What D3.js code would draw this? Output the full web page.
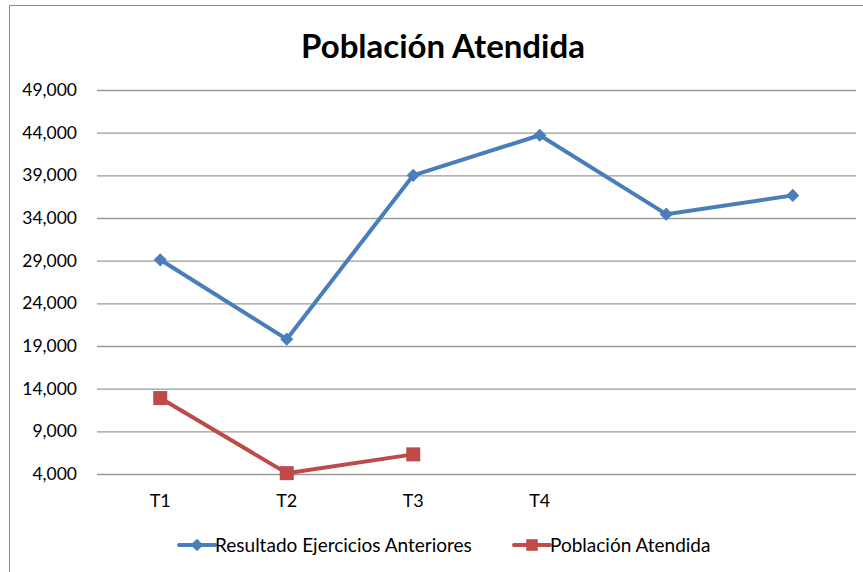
<!DOCTYPE html>
<html>
<head>
<meta charset="utf-8">
<script src="https://cdn.jsdelivr.net/npm/d3@7"></script>
<style>
  body { margin: 0; background: #fff; }
  svg { display: block; font-family: Lato, "Open Sans", sans-serif; }
</style>
</head>
<body>
<script>
// chart data
var categories = ['T1', 'T2', 'T3', 'T4', '', ' '];
var resultadoAnteriores = [29100, 19800, 39000, 43700, 34450, 36650];
var poblacionAtendida = [12900, 4100, 6300];
var yTicks = [4000, 9000, 14000, 19000, 24000, 29000, 34000, 39000, 44000, 49000];

var width = 863, height = 572;
var margin = {left: 97, right: 7, top: 90, bottom: 98};

var svg = d3.select('body').append('svg')
  .attr('width', width)
  .attr('height', height);

// outer chart frame (only left and top edges visible)
svg.append('path')
  .attr('d', 'M9.5,' + height + 'V5.5H' + width)
  .attr('fill', 'none')
  .attr('stroke', '#8c8c8c')
  .attr('stroke-width', 1);

// title
svg.append('text')
  .attr('x', 443)
  .attr('y', 58)
  .attr('text-anchor', 'middle')
  .attr('font-size', 33)
  .attr('font-weight', 'bold')
  .attr('fill', '#000')
  .text('Población Atendida');

var x = d3.scaleBand()
  .domain(categories)
  .range([margin.left, width - margin.right]);

var y = d3.scaleLinear()
  .domain([4000, 49000])
  .range([height - margin.bottom, margin.top]);

// gridlines + y axis labels
var yAxis = svg.append('g')
  .attr('transform', 'translate(' + margin.left + ',0)')
  .call(d3.axisLeft(y)
    .tickValues(yTicks)
    .tickSize(-(width - margin.left - margin.right))
    .tickPadding(20)
    .tickFormat(d3.format(',')));
yAxis.select('.domain').remove();
yAxis.selectAll('line').attr('stroke', '#9a9a9a').attr('stroke-width', 1.3);
yAxis.selectAll('text').attr('font-size', 17.5).attr('fill', '#000').attr('font-family', 'Lato, sans-serif');

// x axis labels
var xAxis = svg.append('g')
  .attr('transform', 'translate(0,' + (height - margin.bottom) + ')')
  .call(d3.axisBottom(x).tickSize(0).tickPadding(20));
xAxis.select('.domain').remove();
xAxis.selectAll('text').attr('font-size', 18).attr('fill', '#000').attr('font-family', 'Lato, sans-serif');

var blue = '#4a7ebb';
var red = '#be4b48';

var line = d3.line()
  .x(function(d, i) { return x(categories[i]) + x.bandwidth() / 2; })
  .y(function(d) { return y(d); });

// blue series
svg.append('path')
  .datum(resultadoAnteriores)
  .attr('d', line)
  .attr('fill', 'none')
  .attr('stroke', blue)
  .attr('stroke-width', 4)
  .attr('stroke-linejoin', 'round');

svg.selectAll('.diamond')
  .data(resultadoAnteriores)
  .enter()
  .append('path')
  .attr('class', 'diamond')
  .attr('d', d3.symbol().type(d3.symbolDiamond2).size(110))
  .attr('transform', function(d, i) {
    return 'translate(' + (x(categories[i]) + x.bandwidth() / 2) + ',' + y(d) + ')';
  })
  .attr('fill', blue);

// red series
svg.append('path')
  .datum(poblacionAtendida)
  .attr('d', line)
  .attr('fill', 'none')
  .attr('stroke', red)
  .attr('stroke-width', 4)
  .attr('stroke-linejoin', 'round');

svg.selectAll('.square')
  .data(poblacionAtendida)
  .enter()
  .append('rect')
  .attr('class', 'square')
  .attr('x', function(d, i) { return x(categories[i]) + x.bandwidth() / 2 - 7; })
  .attr('y', function(d) { return y(d) - 7; })
  .attr('width', 14)
  .attr('height', 14)
  .attr('fill', red);

// legend
var legendItems = [
  {name: 'Resultado Ejercicios Anteriores', color: blue, marker: 'diamond', x: 179},
  {name: 'Población Atendida', color: red, marker: 'square', x: 514}
];
var legend = svg.selectAll('.legend')
  .data(legendItems)
  .enter()
  .append('g')
  .attr('class', 'legend')
  .attr('transform', function(d) { return 'translate(' + d.x + ',545)'; });

legend.append('line')
  .attr('x1', 0).attr('x2', 36)
  .attr('stroke', function(d) { return d.color; })
  .attr('stroke-width', 4)
  .attr('stroke-linecap', 'round');

legend.append('path')
  .attr('d', function(d) {
    return d.marker === 'diamond'
      ? d3.symbol().type(d3.symbolDiamond2).size(100)()
      : d3.symbol().type(d3.symbolSquare2).size(170)();
  })
  .attr('transform', 'translate(18,0)')
  .attr('fill', function(d) { return d.color; });

legend.append('text')
  .attr('x', 36)
  .attr('y', 0)
  .attr('dy', '0.35em')
  .attr('font-size', 19)
  .attr('fill', '#000')
  .text(function(d) { return d.name; });
</script>
</body>
</html>
